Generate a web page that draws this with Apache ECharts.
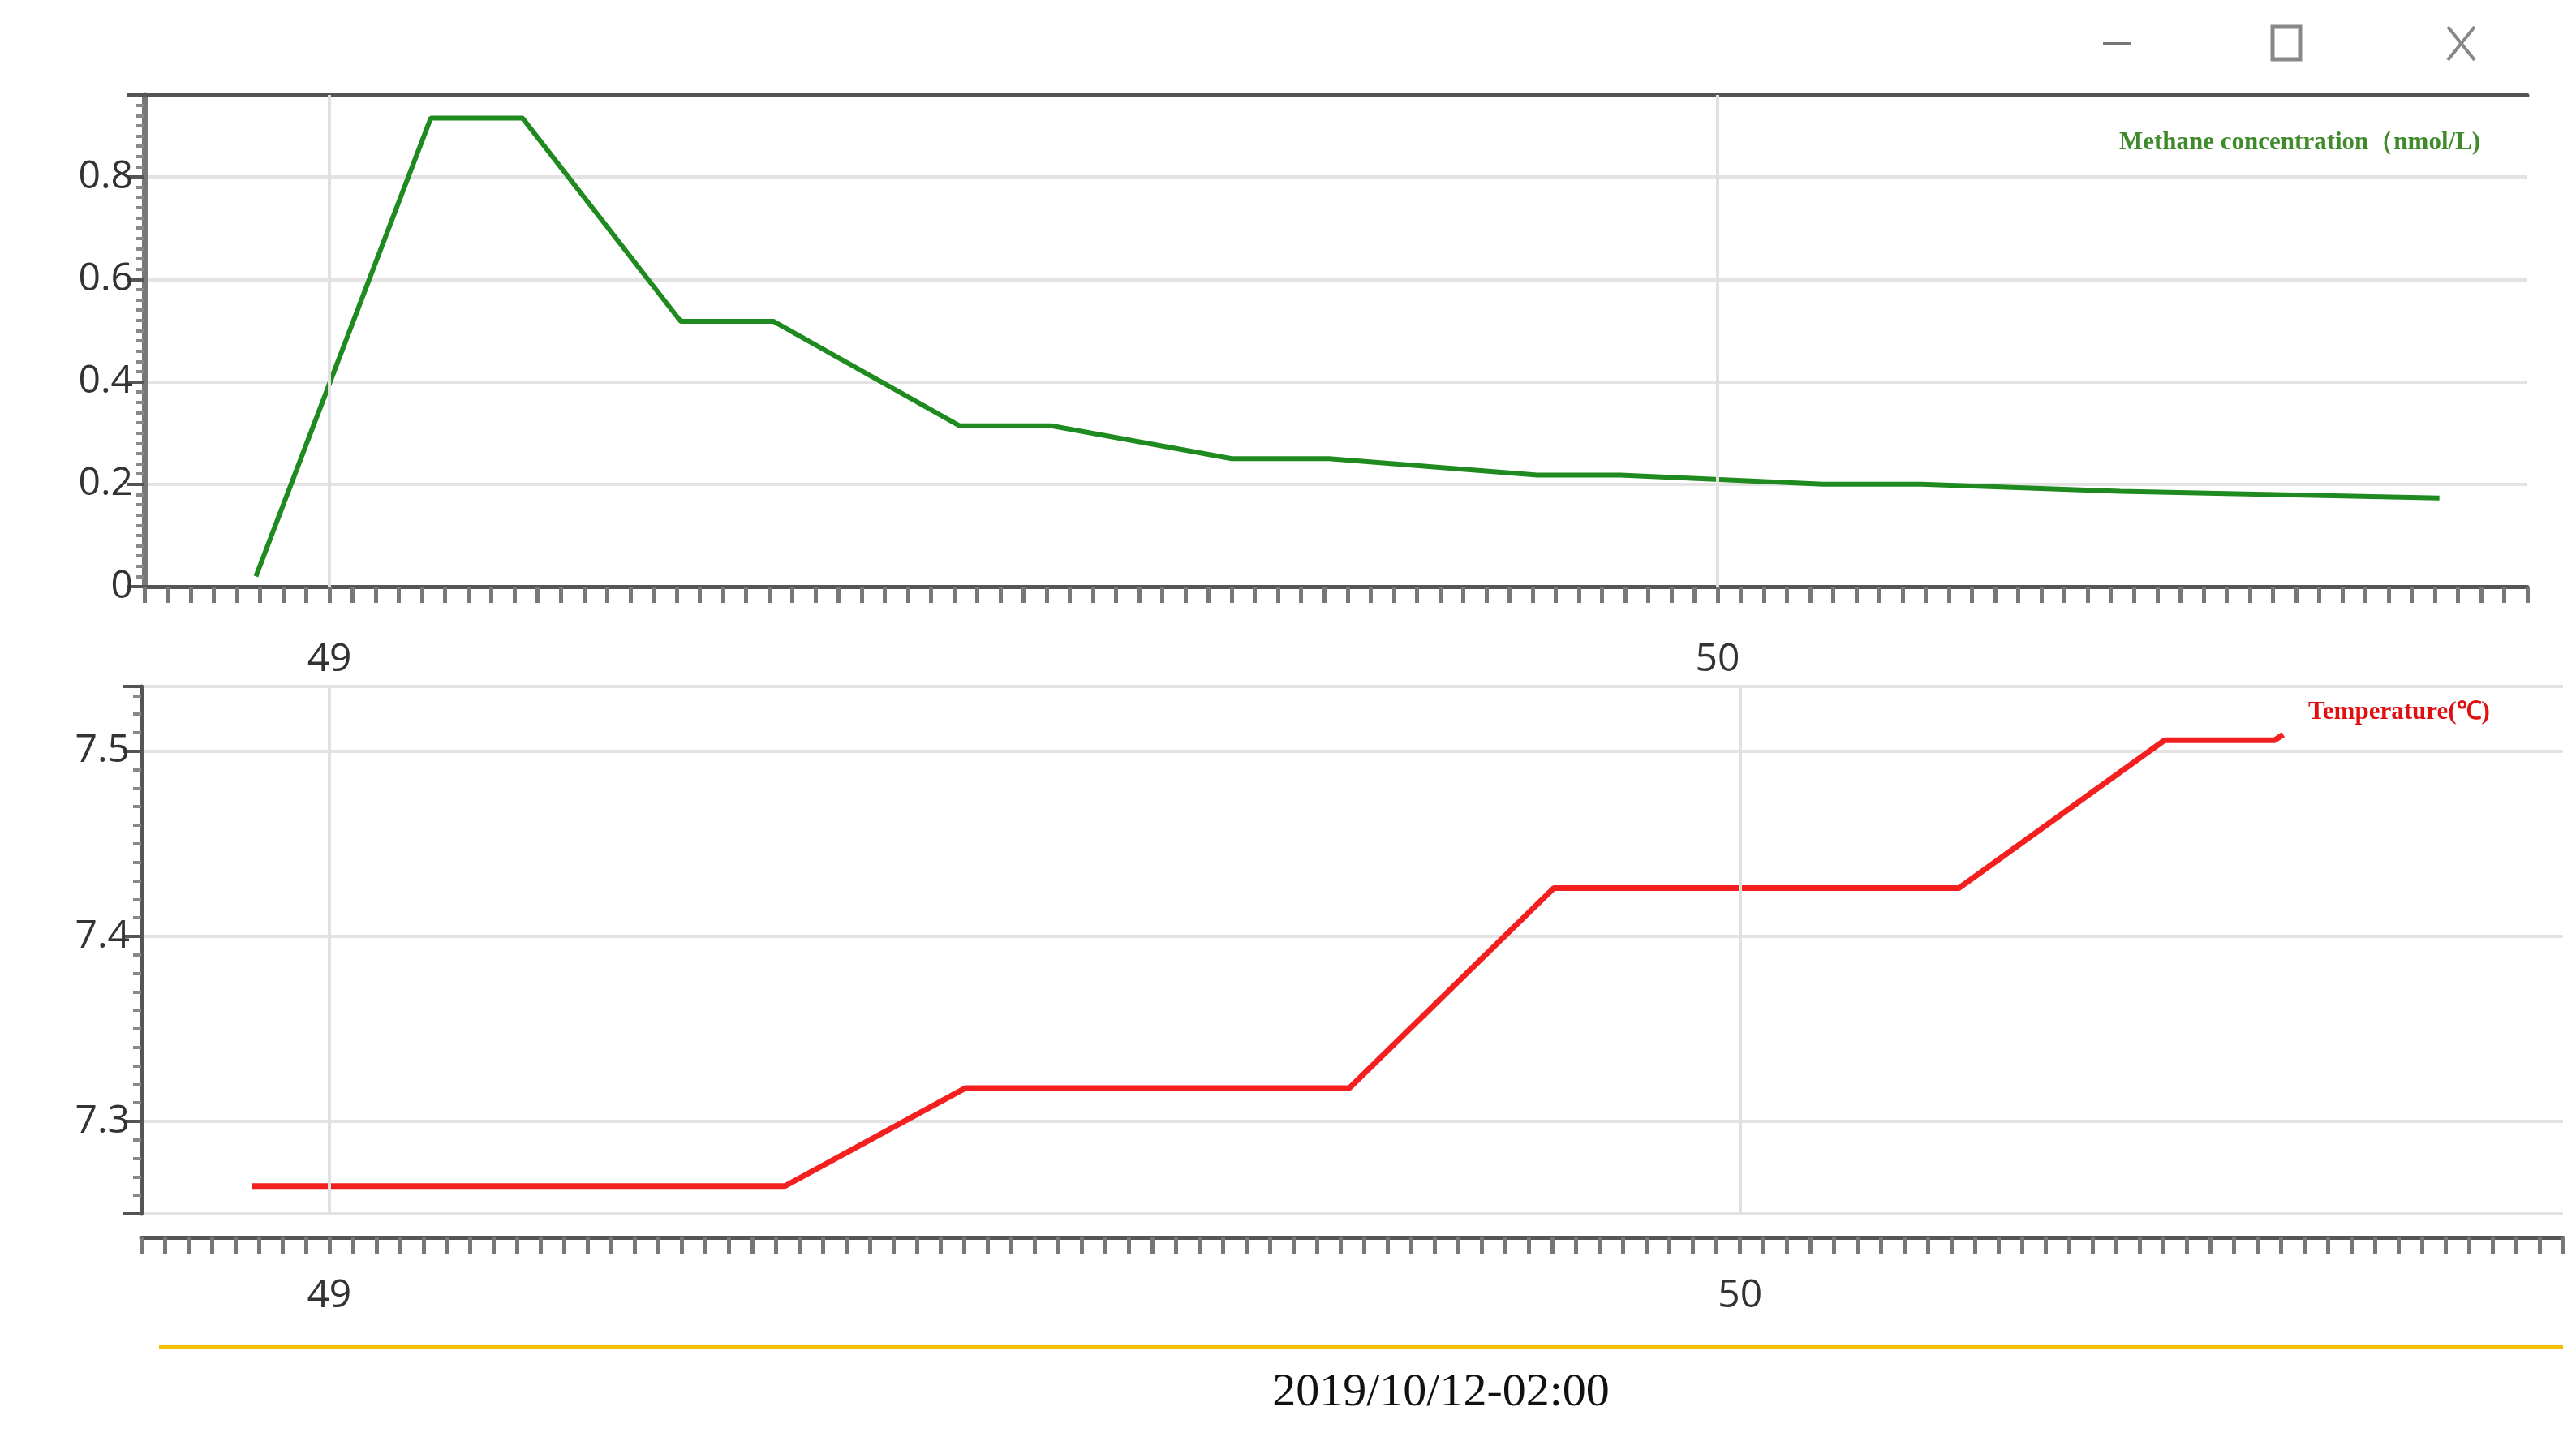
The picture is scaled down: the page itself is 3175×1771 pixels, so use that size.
<!DOCTYPE html>
<html><head><meta charset="utf-8">
<script src="https://cdn.jsdelivr.net/npm/echarts@6/dist/echarts.min.js"></script>
<style>html,body{margin:0;padding:0;background:#fff}#c{width:3175px;height:1771px}</style>
</head><body><div id="c"></div>
<script>
const methaneX = [48.947,49.073,49.139,49.253,49.32,49.454,49.52,49.65,49.72,49.87,49.93,50.076,50.147,50.29,50.52];
const methaneY = [0.02,0.915,0.915,0.518,0.518,0.314,0.314,0.25,0.25,0.218,0.218,0.2,0.2,0.186,0.173];
const tempX = [48.945,49.323,49.451,49.723,49.868,50.155,50.301,50.379,50.385];
const tempY = [7.265,7.265,7.318,7.318,7.426,7.426,7.506,7.506,7.509];
const gridLinesX = [49,50];
const dateLabel = '2019/10/12-02:00';
const methaneName = 'Methane concentration（nmol/L)';
const tempName = 'Temperature(℃)';

const chart = echarts.init(document.getElementById('c'));
const xCommon = (gi, off) => ({
  type:'value', gridIndex:gi, min:48+52/60, max:50+35/60, interval:1/60, offset:off,
  axisLine:{show:true,lineStyle:{color:'#555',width:5}},
  axisTick:{show:true,length:20,lineStyle:{color:'#777',width:5}},
  minorTick:{show:false}, splitLine:{show:false},
  axisLabel:{interval:0,color:'#333',fontSize:48,fontFamily:'Open Sans',margin:48,
    formatter:v=>Math.abs(v-Math.round(v))<1e-6?String(Math.round(v)):''}
});
const vlines = gridLinesX.map(v=>({xAxis:v}));
chart.setOption({
  animation:false,
  grid:[{left:178,right:60,top:117,height:606},{left:174,right:16,top:846,height:650}],
  xAxis:[xCommon(0,18), xCommon(1,29),
    {type:'value',gridIndex:0,position:'top',min:48+52/60,max:50+35/60,axisLine:{show:true,lineStyle:{color:'#555',width:5}},axisTick:{show:false},axisLabel:{show:false},splitLine:{show:false}}],
  yAxis:[
    {type:'value',gridIndex:0,min:0,max:0.96,interval:0.2,
     axisLine:{show:true,lineStyle:{color:'#777',width:7}},
     axisTick:{show:true,length:22,lineStyle:{color:'#555',width:4}},
     minorTick:{show:true,splitNumber:10,length:10,lineStyle:{color:'#888',width:4}},
     splitLine:{show:true,lineStyle:{color:'#e3e3e3',width:4}},
     axisLabel:{color:'#333',fontSize:48,fontFamily:'Open Sans',margin:14,showMaxLabel:false,
       formatter:v=>v===0?'0':v.toFixed(1)}},
    {type:'value',gridIndex:1,min:7.25,max:7.535,splitNumber:3,
     axisLine:{show:true,lineStyle:{color:'#555',width:5}},
     axisTick:{show:true,length:22,lineStyle:{color:'#555',width:4}},
     minorTick:{show:true,splitNumber:10,length:10,lineStyle:{color:'#888',width:4}},
     splitLine:{show:true,lineStyle:{color:'#e3e3e3',width:4}},
     axisLabel:{color:'#333',fontSize:48,fontFamily:'Open Sans',margin:14,showMaxLabel:false,showMinLabel:false,
       formatter:v=>v.toFixed(1)}}
  ],
  series:[
    {type:'line',xAxisIndex:0,yAxisIndex:0,data:methaneX.map((x,i)=>[x,methaneY[i]]),showSymbol:false,
     lineStyle:{color:'#1f8a1f',width:6},
     markLine:{silent:true,symbol:'none',label:{show:false},lineStyle:{color:'#e0e0e0',width:4,type:'solid'},data:vlines}},
    {type:'line',xAxisIndex:1,yAxisIndex:1,data:tempX.map((x,i)=>[x,tempY[i]]),showSymbol:false,
     lineStyle:{color:'#f42020',width:7},
     markLine:{silent:true,symbol:'none',label:{show:false},lineStyle:{color:'#e0e0e0',width:4,type:'solid'},data:vlines}}
  ],
  graphic:[
    {type:'text',left:2612,top:160,style:{text:methaneName,fill:'#3f8a2a',font:'bold 31px "Liberation Serif"'}},
    {type:'text',left:2845,top:862,style:{text:tempName,fill:'#e01010',font:'bold 31px "Liberation Serif"'}},
    {type:'line',shape:{x1:196,y1:1660,x2:3159,y2:1660},style:{stroke:'#f5c000',lineWidth:4}},
    {type:'text',x:1776,y:1717,style:{text:dateLabel,fill:'#111',font:'58px "Liberation Serif"',align:'center',verticalAlign:'middle'}},
    {type:'line',shape:{x1:2592,y1:54,x2:2626,y2:54},style:{stroke:'#777',lineWidth:4}},
    {type:'rect',shape:{x:2801,y:33,width:34,height:40},style:{fill:'none',stroke:'#888',lineWidth:5}},
    {type:'line',shape:{x1:3017,y1:33,x2:3050,y2:74},style:{stroke:'#888',lineWidth:4}},
    {type:'line',shape:{x1:3050,y1:33,x2:3017,y2:74},style:{stroke:'#888',lineWidth:4}}
  ]
});
</script></body></html>
